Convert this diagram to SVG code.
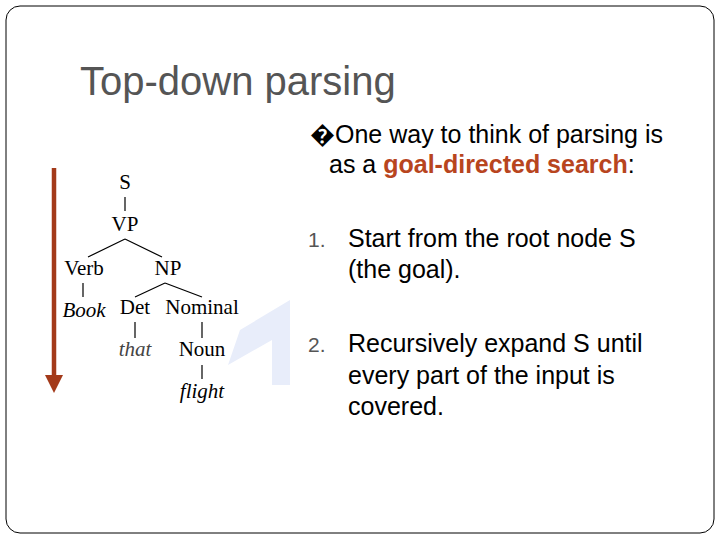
<svg xmlns="http://www.w3.org/2000/svg" width="720" height="540" viewBox="0 0 720 540">
<style>
.t{font-family:"Liberation Sans",Arial,sans-serif;fill:#000;font-size:25px}
.tr{font-family:"Liberation Serif","Times New Roman",serif;font-size:21px;fill:#000;text-anchor:middle}
.i{font-style:italic}
.l{stroke:#000;stroke-width:1.2;fill:none}
.o{fill:#b8451e;font-weight:bold}
.n{fill:#555;font-size:21px}
</style>
<defs><marker id="ah" markerWidth="4" markerHeight="4" refX="2" refY="2" orient="auto" markerUnits="strokeWidth"><path d="M0,0L4,2L0,4z" fill="#a33a1a"/></marker></defs>
<rect x="6" y="6" width="708" height="527" rx="14" fill="#fff" stroke="#000" stroke-width="1"/>
<text class="t" x="80" y="95" style="font-size:40px;fill:#555">Top-down parsing</text>
<polygon points="240,330 290,300 290,385 272,385 272,340 228,365" fill="#e8edfa"/>
<g id="arrow"><line x1="54" y1="168" x2="54" y2="384" stroke="#a33a1a" stroke-width="4.5" marker-end="url(#ah)"/></g>
<g id="tree">
<text class="tr" x="125" y="189">S</text>
<text class="tr" x="125" y="231">VP</text>
<text class="tr" x="84" y="275">Verb</text>
<text class="tr" x="168" y="275">NP</text>
<text class="tr i" x="84" y="317">Book</text>
<text class="tr" x="135" y="314">Det</text>
<text class="tr" x="202" y="314">Nominal</text>
<text class="tr i" x="135" y="356" style="fill:#444">that</text>
<text class="tr" x="202" y="356">Noun</text>
<text class="tr i" x="202" y="398">flight</text>
</g>
<g id="connectors">
<path class="l" d="M125,197V211M125,239L88,257M125,239L162,257M83,283V297M165,283L135,297M165,283L202,297M135,322V338M202,322V338M202,365V379"/>
</g>
<g id="text">
<text class="t" x="310" y="143">�One way to think of parsing is</text>
<text class="t" x="329" y="173">as a <tspan class="o">goal-directed search</tspan>:</text>
<text class="t n" x="308" y="247">1.</text>
<text class="t" x="348" y="247">Start from the root node S</text>
<text class="t" x="348" y="278">(the goal).</text>
<text class="t n" x="308" y="352">2.</text>
<text class="t" x="348" y="352">Recursively expand S until</text>
<text class="t" x="348" y="384">every part of the input is</text>
<text class="t" x="348" y="415">covered.</text>
</g>
</svg>
